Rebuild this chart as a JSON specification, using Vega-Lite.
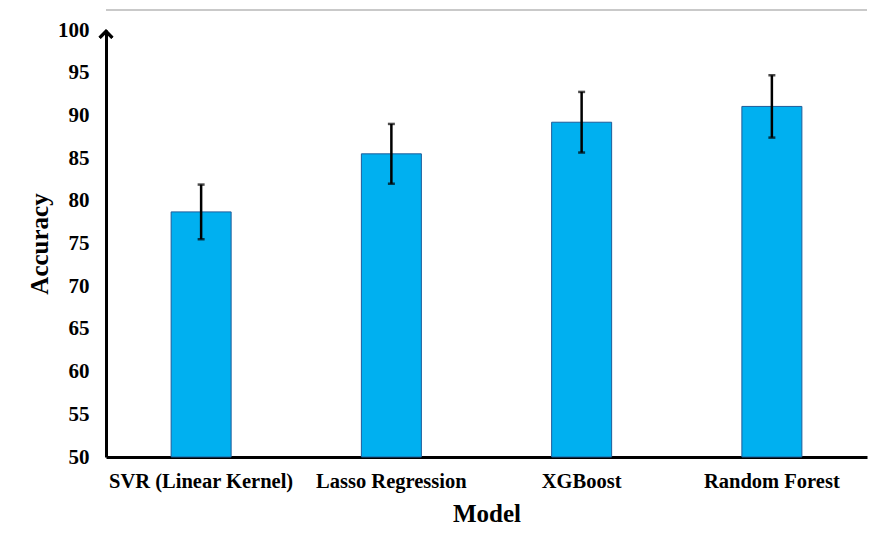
{
  "$schema": "https://vega.github.io/schema/vega-lite/v6.json",
  "width": 761,
  "height": 427,
  "autosize": "none",
  "padding": {"left": 106, "top": 30, "right": 3, "bottom": 78},
  "background": "white",
  "config": {"view": {"stroke": null}, "font": "Liberation Serif"},
  "data": {"values": [
    {"model": "SVR (Linear Kernel)", "acc": 78.7, "err": 3.2},
    {"model": "Lasso Regression", "acc": 85.5, "err": 3.5},
    {"model": "XGBoost", "acc": 89.2, "err": 3.55},
    {"model": "Random Forest", "acc": 91.05, "err": 3.65}
  ]},
  "layer": [
    {
      "mark": {"type": "bar", "color": "#00B0F0", "stroke": "#1F5C99", "strokeWidth": 1, "size": 60},
      "encoding": {
        "x": {"field": "model", "type": "nominal", "sort": null,
          "scale": {"paddingInner": 0, "paddingOuter": 0},
          "axis": {"title": "Model", "labelAngle": 0, "labelLimit": 0, "labelFont": "Liberation Serif", "labelFontWeight": "bold", "labelFontSize": 20.5, "labelColor": "black", "labelPadding": 14, "ticks": false, "domainColor": "black", "domainWidth": 3, "titleFont": "Liberation Serif", "titleFontSize": 25, "titleFontWeight": "bold", "titleColor": "black", "titlePadding": 10}},
        "y": {"field": "acc", "type": "quantitative",
          "scale": {"domain": [50, 100], "zero": false},
          "axis": {"title": "Accuracy", "values": [50, 55, 60, 65, 70, 75, 80, 85, 90, 95, 100], "grid": false, "ticks": false, "labelFont": "Liberation Serif", "labelFontWeight": "bold", "labelFontSize": 21, "labelColor": "black", "labelPadding": 17, "domainColor": "black", "domainWidth": 3, "titleFont": "Liberation Serif", "titleFontSize": 25, "titleFontWeight": "bold", "titleColor": "black", "titlePadding": 5}},
        "y2": {"datum": 50}
      }
    },
    {
      "mark": {"type": "errorbar", "ticks": {"size": 7, "thickness": 2.5, "color": "black"}, "rule": {"strokeWidth": 2.5, "color": "black"}},
      "encoding": {
        "x": {"field": "model", "type": "nominal", "sort": null},
        "y": {"field": "acc", "type": "quantitative", "title": "Accuracy"},
        "yError": {"field": "err"}
      }
    },
    {
      "mark": {"type": "point", "shape": "M-0.8,0.55L0,-0.25L0.8,0.55", "filled": false, "stroke": "black", "strokeWidth": 3, "size": 250, "clip": false},
      "encoding": {
        "x": {"value": 0},
        "y": {"datum": 99.6}
      }
    },
    {
      "mark": {"type": "rule", "color": "#c8c8c8", "strokeWidth": 1.5, "clip": false},
      "encoding": {
        "y": {"datum": 102.35}
      }
    }
  ]
}
